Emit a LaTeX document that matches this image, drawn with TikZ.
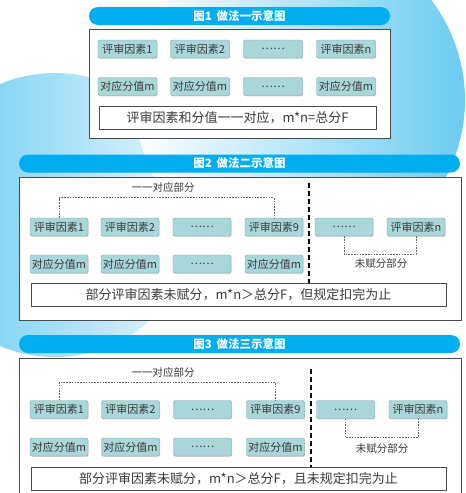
\documentclass[tikz,border=0pt]{standalone}
\usepackage{fontspec}
\setmainfont{Noto Sans CJK SC}
\usetikzlibrary{shadows}
\definecolor{tiaoblue}{HTML}{00AEEF}
\definecolor{boxfill}{HTML}{A9D6D9}
\definecolor{boxline}{HTML}{7FA3A6}
\definecolor{wenzi}{HTML}{3A3A3A}
\definecolor{bgdeep}{HTML}{5BC6EF}
\definecolor{bgpale}{HTML}{EEF8FD}
\tikzset{
  yinsu/.style={draw=boxline, fill=boxfill, rounded corners=2pt, minimum width=58pt, minimum height=18pt, inner sep=0pt,
    font=\fontsize{11}{11}\selectfont, text=wenzi, drop shadow={shadow xshift=0.6pt, shadow yshift=-0.8pt, opacity=0.3}},
  biaoti/.style={fill=tiaoblue, rounded corners=9pt, minimum height=18pt, inner sep=0pt, text=white,
    font=\fontsize{11.5}{11.5}\selectfont\bfseries},
  kuang/.style={draw=black!70, line width=0.9pt, fill=white},
  jielun/.style={draw=black!70, line width=0.8pt, fill=white, minimum height=23pt, inner sep=0pt,
    font=\fontsize{13}{13}\selectfont, text=wenzi},
  xuxian/.style={draw=black!60, line width=0.8pt, dash pattern=on 1.6pt off 1.2pt},
  fenge/.style={draw=black, line width=1.4pt, dash pattern=on 5pt off 3pt},
  zhushi/.style={font=\fontsize{10.5}{10.5}\selectfont, text=wenzi}
}
\begin{document}
\begin{tikzpicture}[x=1pt, y=-1pt]
  \useasboundingbox (0,0) rectangle (466,493);
  \clip (0,0) rectangle (466,493);
  % background blobs
  \shade[left color=bgdeep, right color=bgpale] (55,215) circle (142);
  \shade[left color=white, right color=bgdeep!90] (300,100) circle (165);

  % figure 1
  \draw (239.5,16) node[biaoti, minimum width=301pt] (t1) {图1\hspace{5pt}做法一示意图};
  \draw[kuang] (89,29) rectangle (390,138);
  \draw (127.5,49) node[yinsu, minimum width=59pt] (a1) {评审因素1};
  \draw (200,49) node[yinsu, minimum width=59pt] (a2) {评审因素2};
  \draw (273,49) node[yinsu, minimum width=59pt] (a3) {……};
  \draw (346,49) node[yinsu, minimum width=59pt] (a4) {评审因素n};
  \draw (127.5,86.5) node[yinsu, minimum width=59pt] (b1) {对应分值m};
  \draw (200,86.5) node[yinsu, minimum width=59pt] (b2) {对应分值m};
  \draw (273,86.5) node[yinsu, minimum width=59pt] (b3) {……};
  \draw (346,86.5) node[yinsu, minimum width=59pt] (b4) {对应分值m};
  \draw (237.5,117.5) node[jielun, minimum width=277pt] (j1) {评审因素和分值一一对应，m*n=总分F};

  % figure 2
  \draw (239.5,163.5) node[biaoti, minimum width=441pt] (t2) {图2\hspace{5pt}做法二示意图};
  \draw[kuang] (19,177) rectangle (461,320);
  \draw (59,227) node[yinsu] (c1) {评审因素1};
  \draw (130,227) node[yinsu] (c2) {评审因素2};
  \draw (202,227) node[yinsu] (c3) {……};
  \draw (274,227) node[yinsu] (c4) {评审因素9};
  \draw (344,227) node[yinsu] (c5) {……};
  \draw (416,227) node[yinsu] (c6) {评审因素n};
  \draw (59,264) node[yinsu] (d1) {对应分值m};
  \draw (130,264) node[yinsu] (d2) {对应分值m};
  \draw (202,264) node[yinsu] (d3) {……};
  \draw (274,264) node[yinsu] (d4) {对应分值m};
  \draw (238.5,294.5) node[jielun, minimum width=415pt] (j2) {部分评审因素未赋分，m*n＞总分F，但规定扣完为止};
  \draw (163,188) node[zhushi] (u2) {一一对应部分};
  \draw[xuxian] (c1.north) -- ++(0,-20) -| (c4.north);
  \draw (381,264) node[zhushi] (w2) {未赋分部分};
  \draw[xuxian] (c5.south) -- ++(0,18) -| (c6.south);
  \coordinate (f2) at (309,183);
  \draw[fenge] (f2) -- (f2 |- j2.north);

  % figure 3
  \draw (239.5,344) node[biaoti, minimum width=441pt] (t3) {图3\hspace{5pt}做法三示意图};
  \draw[kuang] (19,358) rectangle (461,500);
  \draw (59,409.5) node[yinsu] (e1) {评审因素1};
  \draw (130.5,409.5) node[yinsu] (e2) {评审因素2};
  \draw (202.5,409.5) node[yinsu] (e3) {……};
  \draw (275.5,409.5) node[yinsu] (e4) {评审因素9};
  \draw (345.5,409.5) node[yinsu] (e5) {……};
  \draw (418,409.5) node[yinsu] (e6) {评审因素n};
  \draw (59,447) node[yinsu] (g1) {对应分值m};
  \draw (130.5,447) node[yinsu] (g2) {对应分值m};
  \draw (202.5,447) node[yinsu] (g3) {……};
  \draw (275.5,447) node[yinsu] (g4) {对应分值m};
  \draw (238.5,478.5) node[jielun, minimum width=415pt] (j3) {部分评审因素未赋分，m*n＞总分F，且未规定扣完为止};
  \draw (163,372) node[zhushi] (u3) {一一对应部分};
  \draw[xuxian] (e1.north) -- ++(0,-18) -| (e4.north);
  \draw (382,448) node[zhushi] (w3) {未赋分部分};
  \draw[xuxian] (e5.south) -- ++(0,19) -| (e6.south);
  \coordinate (f3) at (311,369);
  \draw[fenge] (f3) -- (f3 |- j3.north);
\end{tikzpicture}
\end{document}
